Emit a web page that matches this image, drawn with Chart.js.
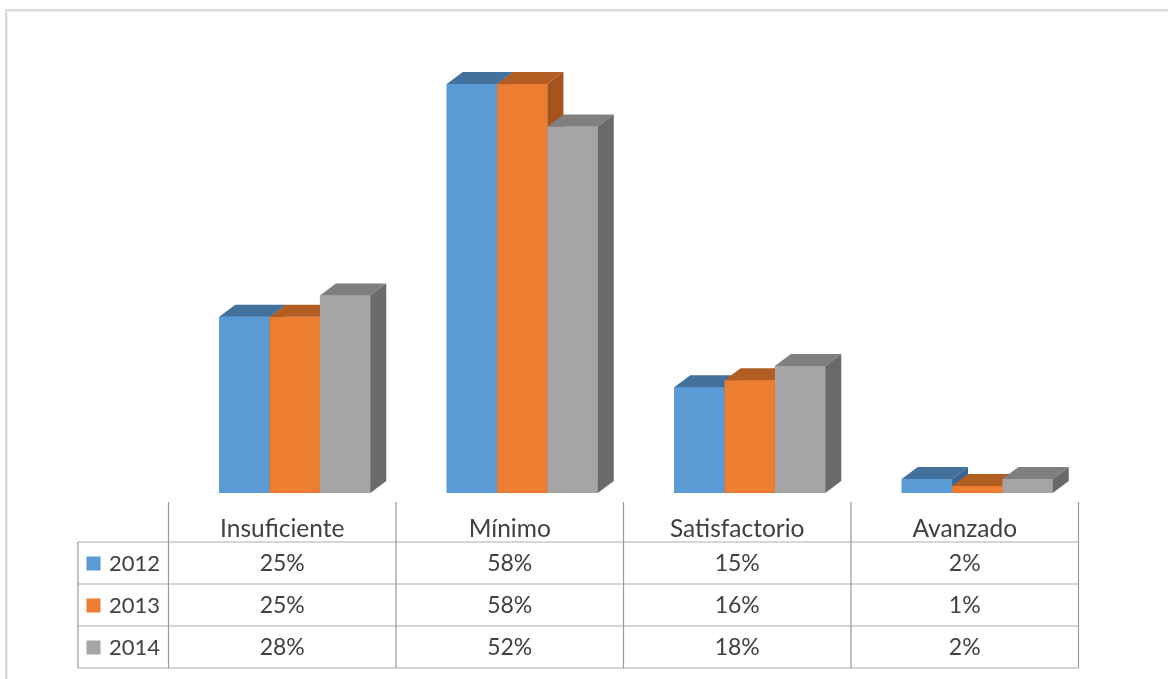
<!DOCTYPE html>
<html>
<head>
<meta charset="utf-8">
<script src="https://cdn.jsdelivr.net/npm/chart.js@4/dist/chart.umd.min.js"></script>
<style>
  html, body { margin: 0; padding: 0; background: #ffffff; overflow: hidden; }
  #wrap { position: relative; width: 1168px; height: 679px; }
  #frame { position: absolute; left: 5px; top: 9px; width: 1200px; height: 720px;
           border-left: 2px solid #dadada; border-top: 2px solid #dadada;
           box-shadow: inset 1px 1px 1px #eeeeee; }
  canvas { position: absolute; left: 0; top: 0; }
</style>
</head>
<body>
<div id="wrap">
  <div id="frame"></div>
  <canvas id="c" width="1168" height="679"></canvas>
</div>
<script>
const categories = ['Insuficiente', 'Mínimo', 'Satisfactorio', 'Avanzado'];
const seriesNames = ['2012', '2013', '2014'];
const values2012 = [25, 58, 15, 2];
const values2013 = [25, 58, 16, 1];
const values2014 = [28, 52, 18, 2];

const frontColors = ['#5B9BD5', '#ED7D31', '#A5A5A5'];
const topColors   = ['#41719C', '#B25E22', '#7F7F7F'];
const sideColors  = ['#3A6791', '#A4541C', '#6A6A6A'];

const DX = 16, DY = 12;
const TABLE_SHIFT = -12.5;   // table columns vs. bar groups (3D projection offset)
const LEGEND_COL_W = 90.5;
const HEADER_TOP = 502, ROW_TOP = 542, ROW_H = 42;
const HEADER_FONT = '24.5px Lato, "Liberation Sans", sans-serif';
const CELL_FONT = '23px Lato, "Liberation Sans", sans-serif';
const LEGEND_FONT = '22px Lato, "Liberation Sans", sans-serif';

// Draws every bar (front, top, side) per category, left-to-right series order,
// so that each later bar's front correctly hides the previous bar's side.
const threeD = {
  id: 'threeD',
  afterDatasetsDraw(chart) {
    const ctx = chart.ctx;
    const nDs = chart.data.datasets.length;
    ctx.save();
    for (let k = 0; k < categories.length; k++) {
      for (let i = 0; i < nDs; i++) {
        const bar = chart.getDatasetMeta(i).data[k];
        const p = bar.getProps(['x', 'y', 'base', 'width'], true);
        const l = p.x - p.width / 2, r = p.x + p.width / 2, t = p.y, b = p.base;
        ctx.fillStyle = frontColors[i];
        ctx.fillRect(l, t, r - l, b - t);
        ctx.fillStyle = topColors[i];
        ctx.beginPath();
        ctx.moveTo(l, t); ctx.lineTo(r, t); ctx.lineTo(r + DX, t - DY); ctx.lineTo(l + DX, t - DY);
        ctx.closePath(); ctx.fill();
        ctx.fillStyle = sideColors[i];
        ctx.beginPath();
        ctx.moveTo(r, t); ctx.lineTo(r + DX, t - DY); ctx.lineTo(r + DX, b - DY); ctx.lineTo(r, b);
        ctx.closePath(); ctx.fill();
      }
    }
    ctx.restore();
  }
};

const dataTable = {
  id: 'dataTable',
  afterDraw(chart) {
    const ctx = chart.ctx;
    const xs = chart.scales.x;
    const catW = xs.getPixelForValue(1) - xs.getPixelForValue(0);
    const colL = k => xs.getPixelForValue(k) - catW / 2 + TABLE_SHIFT;
    const tableL = colL(0) - LEGEND_COL_W;
    const tableR = colL(categories.length);
    const bottom = ROW_TOP + ROW_H * seriesNames.length;
    const rows = [values2012, values2013, values2014];
    ctx.save();
    ctx.strokeStyle = '#c9c9c9';
    ctx.lineWidth = 1.5;
    for (let r = 0; r <= seriesNames.length; r++) {
      const y = ROW_TOP + r * ROW_H;
      ctx.beginPath(); ctx.moveTo(tableL, y); ctx.lineTo(tableR, y); ctx.stroke();
    }
    ctx.strokeStyle = '#9a9a9a';
    ctx.lineWidth = 1.2;
    for (let k = 0; k <= categories.length; k++) {
      const x = colL(k);
      ctx.beginPath(); ctx.moveTo(x, HEADER_TOP); ctx.lineTo(x, bottom); ctx.stroke();
    }
    ctx.beginPath(); ctx.moveTo(tableL, ROW_TOP); ctx.lineTo(tableL, bottom); ctx.stroke();
    ctx.fillStyle = '#404040';
    ctx.font = HEADER_FONT;
    ctx.textAlign = 'center';
    ctx.textBaseline = 'middle';
    categories.forEach((c, k) => {
      ctx.fillText(c, colL(k) + catW / 2, 529);
    });
    rows.forEach((vals, r) => {
      const yc = ROW_TOP + r * ROW_H + ROW_H / 2 + 0.5;
      ctx.fillStyle = frontColors[r];
      ctx.fillRect(tableL + 8.5, yc - 7, 14, 14);
      ctx.fillStyle = '#404040';
      ctx.font = LEGEND_FONT;
      ctx.textAlign = 'left';
      ctx.fillText(seriesNames[r], tableL + 31, yc);
      ctx.font = CELL_FONT;
      ctx.textAlign = 'center';
      vals.forEach((v, k) => {
        ctx.fillText(v + '%', colL(k) + catW / 2, yc);
      });
    });
    ctx.restore();
  }
};

const datasets = [values2012, values2013, values2014].map((vals, i) => ({
  label: seriesNames[i],
  data: vals,
  backgroundColor: frontColors[i],
  borderWidth: 0,
  categoryPercentage: 0.664,
  barPercentage: 1.0
}));

new Chart(document.getElementById('c'), {
  type: 'bar',
  data: { labels: categories, datasets },
  options: {
    responsive: false,
    animation: false,
    events: [],
    layout: { padding: { left: 181, right: 77, top: 70, bottom: 186 } },
    plugins: { legend: { display: false }, tooltip: { enabled: false } },
    scales: {
      x: { display: false, offset: true },
      y: { display: false, min: 0, max: 60 }
    }
  },
  plugins: [threeD, dataTable]
});
</script>
</body>
</html>
